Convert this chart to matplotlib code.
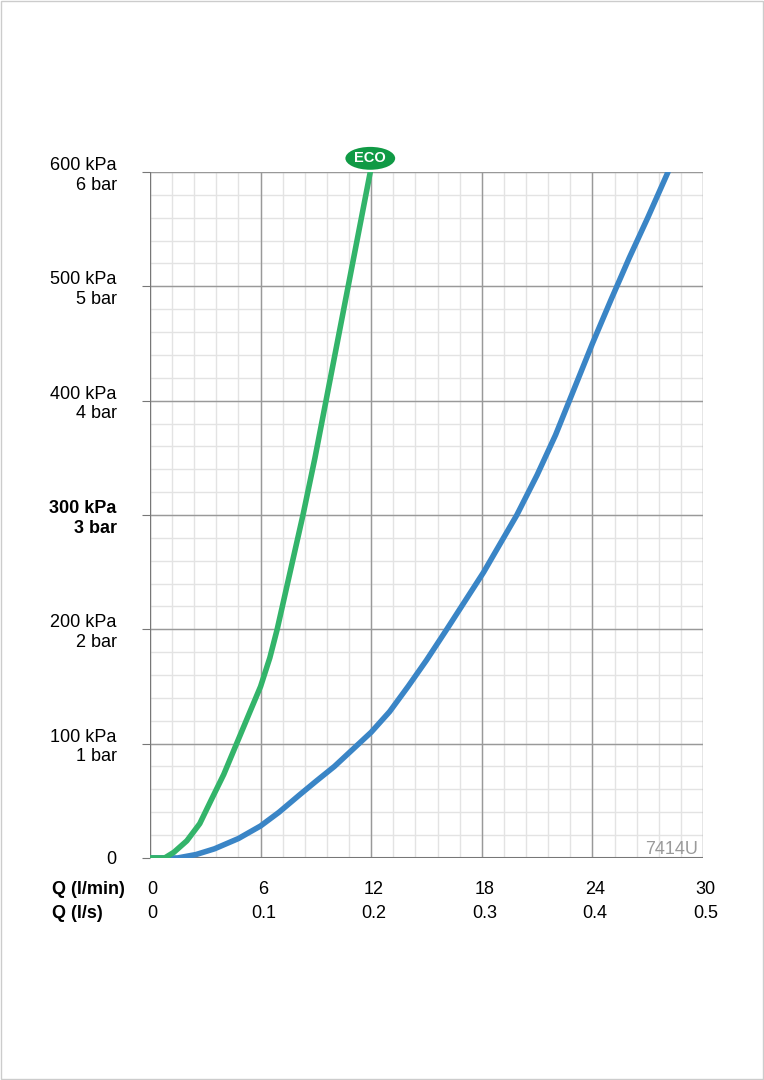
import matplotlib
matplotlib.use("Agg")
import matplotlib.pyplot as plt
from matplotlib.patches import Ellipse, Rectangle
import numpy as np

plt.rcParams['font.family'] = ['Liberation Sans', 'DejaVu Sans']

eco_q = [0.0, 0.8, 1.3, 2.0, 2.7, 3.3, 4.0, 4.7, 5.4, 6.0, 6.5, 6.9, 7.6, 8.3, 8.95, 9.55, 10.15, 10.75, 11.35, 11.95]
eco_p = [0, 0, 5, 15, 30, 50, 73, 100, 127, 150, 175, 200, 250, 300, 350, 400, 450, 500, 550, 600]
std_q = [0, 1.5, 2.5, 3.5, 4.8, 6.0, 7.0, 8.1, 9.0, 10.0, 11.0, 12.0, 13.0, 14.0, 15.0, 16.1, 17.1, 18.1, 19.0, 19.9, 21.0, 22.0, 23.0, 24.0, 25.0, 26.0, 27.0, 28.1]
std_p = [0, 0, 3, 8, 17, 28, 40, 55, 67, 80, 95, 110, 128, 150, 173, 200, 225, 250, 275, 300, 335, 370, 410, 450, 488, 525, 560, 600]
xticks_lmin = [0, 6, 12, 18, 24, 30]
xticks_ls = ["0", "0.1", "0.2", "0.3", "0.4", "0.5"]
yticks = [0, 100, 200, 300, 400, 500, 600]
ylabels = ["0", "100 kPa\n1 bar", "200 kPa\n2 bar", "300 kPa\n3 bar", "400 kPa\n4 bar", "500 kPa\n5 bar", "600 kPa\n6 bar"]

fig = plt.figure(figsize=(7.64, 10.8), dpi=100)
fig.patch.set_facecolor("white")
fig.patches.append(Rectangle((0.001, 0.001), 0.998, 0.998, transform=fig.transFigure,
                             fill=False, edgecolor="#cccccc", lw=1))
ax = fig.add_axes([0.1963, 0.2056, 0.7239, 0.6351])
ax.set_xlim(0, 30); ax.set_ylim(0, 600)
for v in np.arange(0, 30.01, 1.2):
    ax.axvline(v, color="#e3e3e3", lw=1, zorder=0)
for v in np.arange(0, 600.1, 20):
    ax.axhline(v, color="#e3e3e3", lw=1, zorder=0)
for v in xticks_lmin:
    ax.axvline(v, color="#999999", lw=1, zorder=1)
for v in yticks:
    ax.axhline(v, color="#999999", lw=1, zorder=1)
for s in ax.spines.values():
    s.set_visible(False)
ax.axvline(0, color="#777777", lw=1.5, zorder=2)
ax.axhline(0, color="#777777", lw=1.5, zorder=2)

ax.plot(std_q, std_p, color="#3a85c6", lw=4, solid_capstyle="round", solid_joinstyle="round", zorder=3)
ax.plot(eco_q, eco_p, color="#33b46a", lw=4, solid_capstyle="round", solid_joinstyle="round", zorder=4)

ax.set_xticks([]); ax.set_yticks(yticks)
ax.set_yticklabels(ylabels, fontsize=13, ha="right", linespacing=1.2)
ax.tick_params(axis="y", length=6, color="#777777", pad=18)
for t in ax.get_yticklabels():
    if t.get_text().startswith("300"):
        t.set_fontweight("bold")
for q, l in zip(xticks_lmin, xticks_ls):
    ax.text(q + 0.15, -20, str(q), ha="center", va="top", fontsize=13)
    ax.text(q + 0.15, -41, l, ha="center", va="top", fontsize=13)
ax.text(-5.3, -20, "Q (l/min)", ha="left", va="top", fontsize=13, fontweight="bold")
ax.text(-5.3, -41, "Q (l/s)", ha="left", va="top", fontsize=13, fontweight="bold")
ax.text(29.7, 0, "7414U", ha="right", va="bottom", fontsize=13, color="#9a9a9a")

e = Ellipse((11.95, 612), 2.7, 20, facecolor="#109a45", edgecolor="none", clip_on=False, zorder=5)
ax.add_patch(e)
ax.text(11.95, 612, "ECO", ha="center", va="center", color="white", fontsize=10.5, fontweight="bold", zorder=6, clip_on=False)

fig.savefig("out.png", dpi=100, facecolor="white")
